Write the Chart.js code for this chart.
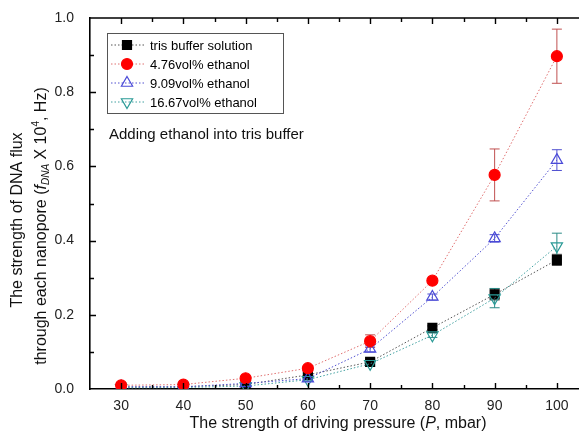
<!DOCTYPE html>
<html>
<head>
<meta charset="utf-8">
<script src="https://cdn.jsdelivr.net/npm/chart.js@4/dist/chart.umd.min.js"></script>
<style>
  html, body { margin: 0; padding: 0; background: #fff; overflow: hidden; }
  #wrap { width: 579px; height: 432px; overflow: hidden; }
</style>
</head>
<body>
<div id="wrap"><canvas id="c" width="600" height="432"></canvas></div>
<script>
// data
const pressure = [30, 40, 50, 60, 70, 80, 90, 100]
const tris = [0.005, 0.006, 0.012, 0.038, 0.073, 0.165, 0.255, 0.348]
const trisErr = [0.002, 0.002, 0.003, 0.005, 0.006, 0.005, 0.015, 0.015]
const eth476 = [0.010, 0.012, 0.029, 0.056, 0.129, 0.292, 0.577, 0.897]
const eth476Err = [0.003, 0.003, 0.004, 0.006, 0.017, 0.006, 0.070, 0.073]
const eth909 = [0.006, 0.006, 0.015, 0.028, 0.108, 0.248, 0.406, 0.617]
const eth909Err = [0.002, 0.002, 0.003, 0.004, 0.008, 0.008, 0.010, 0.028]
const eth1667 = [0.003, 0.004, 0.008, 0.025, 0.068, 0.145, 0.245, 0.385]
const eth1667Err = [0.002, 0.002, 0.003, 0.004, 0.006, 0.006, 0.026, 0.035]
const seriesNames = ['tris buffer solution', '4.76vol% ethanol', '9.09vol% ethanol', '16.67vol% ethanol']
const yTicks = [0, 0.2, 0.4, 0.6, 0.8, 1.0]

const FONT = '"Liberation Sans", Arial, sans-serif'

function pts(ys) {
    return pressure.map((x, i) => ({x: x, y: ys[i]}))
}

const styles = [
    {marker: 'rect', fill: '#000000', stroke: '#000000', line: '#555555', err: '#444444', r: 6.3, rot: 0},
    {marker: 'circle', fill: '#ff0000', stroke: '#ff0000', line: '#e07070', err: '#c05050', r: 5.5, rot: 0},
    {marker: 'triangle', fill: 'rgba(0,0,0,0)', stroke: '#4a4ad8', line: '#5050d0', err: '#5050d0', r: 6.5, rot: 0},
    {marker: 'triangle', fill: 'rgba(0,0,0,0)', stroke: '#2a9a96', line: '#40a0a0', err: '#2a8a86', r: 6.5, rot: 180}
]
const values = [tris, eth476, eth909, eth1667]
const errors = [trisErr, eth476Err, eth909Err, eth1667Err]

let datasets = values.map((v, i) => ({
    label: seriesNames[i],
    data: pts(v),
    showLine: true,
    borderColor: styles[i].line,
    borderWidth: 1,
    borderDash: [1.5, 2],
    pointStyle: styles[i].marker,
    pointRotation: styles[i].rot,
    pointRadius: styles[i].r,
    pointBackgroundColor: styles[i].fill,
    pointBorderColor: styles[i].stroke,
    pointBorderWidth: 1.2,
    errors: errors[i]
}))

// draw order: teal and blue under red, black on top like the picture
datasets[0].order = 3
datasets[1].order = 0
datasets[2].order = 1
datasets[3].order = 2

const errorBars = {
    id: 'errorBars',
    beforeDatasetsDraw(chart) {
        const ctx = chart.ctx
        const xs = chart.scales.x, ys = chart.scales.y
        ctx.save()
        chart.data.datasets.forEach((ds, i) => {
            ctx.strokeStyle = styles[i].err
            ctx.lineWidth = 1
            ds.data.forEach((p, k) => {
                const e = ds.errors[k]
                const px = xs.getPixelForValue(p.x)
                const top = ys.getPixelForValue(p.y + e)
                const bot = ys.getPixelForValue(p.y - e)
                ctx.beginPath()
                ctx.moveTo(px, top); ctx.lineTo(px, bot)
                ctx.moveTo(px - 5, top); ctx.lineTo(px + 5, top)
                ctx.moveTo(px - 5, bot); ctx.lineTo(px + 5, bot)
                ctx.stroke()
            })
        })
        ctx.restore()
    }
}

function marker(ctx, st, x, y) {
    ctx.save()
    ctx.fillStyle = st.fill
    ctx.strokeStyle = st.stroke
    ctx.lineWidth = 1.2
    ctx.beginPath()
    if (st.marker === 'rect') {
        ctx.rect(x - 4.5, y - 4.5, 9, 9)
    } else if (st.marker === 'circle') {
        ctx.arc(x, y, st.r, 0, Math.PI * 2)
    } else {
        const s = st.rot ? -1 : 1
        ctx.moveTo(x, y - s * st.r)
        ctx.lineTo(x + st.r * 0.866, y + s * st.r * 0.5)
        ctx.lineTo(x - st.r * 0.866, y + s * st.r * 0.5)
        ctx.closePath()
    }
    ctx.fill()
    ctx.stroke()
    ctx.restore()
}

// frame, inward ticks, legend, note and axis titles
const decor = {
    id: 'decor',
    afterDraw(chart) {
        const ctx = chart.ctx
        const a = chart.chartArea
        const xs = chart.scales.x, ys = chart.scales.y
        ctx.save()
        ctx.strokeStyle = '#000'
        ctx.lineWidth = 1.6
        ctx.beginPath()
        ctx.moveTo(a.left, a.top); ctx.lineTo(a.right, a.top); ctx.lineTo(a.right, a.bottom)
        ctx.stroke()

        ctx.lineWidth = 1.4
        ctx.beginPath()
        for (let v = 30; v <= 100; v += 5) {
            const px = Math.round(xs.getPixelForValue(v)) + 0.5
            const len = v % 10 === 0 ? 6 : 4
            ctx.moveTo(px, a.bottom); ctx.lineTo(px, a.bottom - len)
            ctx.moveTo(px, a.top); ctx.lineTo(px, a.top + len)
        }
        for (let k = 1; k < 10; k++) {
            const py = Math.round(ys.getPixelForValue(k / 10)) + 0.5
            const len = k % 2 === 0 ? 6 : 4
            ctx.moveTo(a.left, py); ctx.lineTo(a.left + len, py)
            ctx.moveTo(a.right, py); ctx.lineTo(a.right - len, py)
        }
        ctx.stroke()

        // legend box
        ctx.lineWidth = 1
        ctx.strokeStyle = '#555'
        ctx.strokeRect(107.5, 33.5, 176, 80)
        ctx.font = '13px ' + FONT
        ctx.textBaseline = 'middle'
        ctx.fillStyle = '#000'
        seriesNames.forEach((name, i) => {
            const y = 45 + i * 19
            ctx.save()
            ctx.strokeStyle = styles[i].line
            ctx.setLineDash([1.5, 2])
            ctx.beginPath()
            ctx.moveTo(111, y); ctx.lineTo(144, y)
            ctx.stroke()
            ctx.restore()
            marker(ctx, styles[i], 127, y)
            ctx.fillStyle = '#000'
            ctx.fillText(name, 150, y + 1)
        })

        // note
        ctx.font = '15px ' + FONT
        ctx.fillStyle = '#111'
        ctx.fillText('Adding ethanol into tris buffer', 109, 135)

        // x title
        const xt = [
            ['The strength of driving pressure (', ''],
            ['P', 'italic '],
            [', mbar)', '']
        ]
        let total = 0
        xt.forEach(t => { ctx.font = t[1] + '16px ' + FONT; total += ctx.measureText(t[0]).width })
        let cx = 338 - total / 2
        xt.forEach(t => {
            ctx.font = t[1] + '16px ' + FONT
            ctx.fillText(t[0], cx, 424)
            cx += ctx.measureText(t[0]).width
        })

        // y title, two lines rotated
        ctx.save()
        ctx.rotate(-Math.PI / 2)
        ctx.font = '16px ' + FONT
        ctx.textAlign = 'center'
        ctx.fillText('The strength of DNA flux', -220, 18)
        ctx.textAlign = 'left'
        const parts = [
            {t: 'through each nanopore (', f: '16px ', dy: 0},
            {t: 'f', f: 'italic 16px ', dy: 0},
            {t: 'DNA', f: 'italic 10px ', dy: 4},
            {t: ' X 10', f: '16px ', dy: 0},
            {t: '4', f: '10px ', dy: -6},
            {t: ', Hz)', f: '16px ', dy: 0}
        ]
        let w = 0
        parts.forEach(p => { ctx.font = p.f + FONT; w += ctx.measureText(p.t).width })
        let px = -226 - w / 2
        parts.forEach(p => {
            ctx.font = p.f + FONT
            ctx.fillText(p.t, px, 42 + p.dy)
            px += ctx.measureText(p.t).width
        })
        ctx.restore()
        ctx.restore()
    }
}

new Chart(document.getElementById('c'), {
    type: 'scatter',
    data: {datasets: datasets},
    options: {
        responsive: false,
        animation: false,
        layout: {padding: {left: 0, top: 18, right: 12, bottom: 0}},
        plugins: {legend: {display: false}, tooltip: {enabled: false}},
        scales: {
            x: {
                type: 'linear',
                min: 25,
                max: 105,
                afterBuildTicks: s => { s.ticks = pressure.map(v => ({value: v})) },
                afterFit: s => { s.height = 43 },
                grid: {display: false},
                border: {display: true, color: '#000', width: 1.6},
                ticks: {color: '#222', font: {size: 14, family: FONT}, padding: 1}
            },
            y: {
                min: 0,
                max: 1,
                afterBuildTicks: s => { s.ticks = yTicks.map(v => ({value: v})) },
                afterFit: s => { s.width = 90 },
                grid: {display: false},
                border: {display: true, color: '#000', width: 1.6},
                ticks: {color: '#222', font: {size: 14, family: FONT}, padding: 8,
                    callback: v => v.toFixed(1)}
            }
        }
    },
    plugins: [errorBars, decor]
});
</script>
</body>
</html>
